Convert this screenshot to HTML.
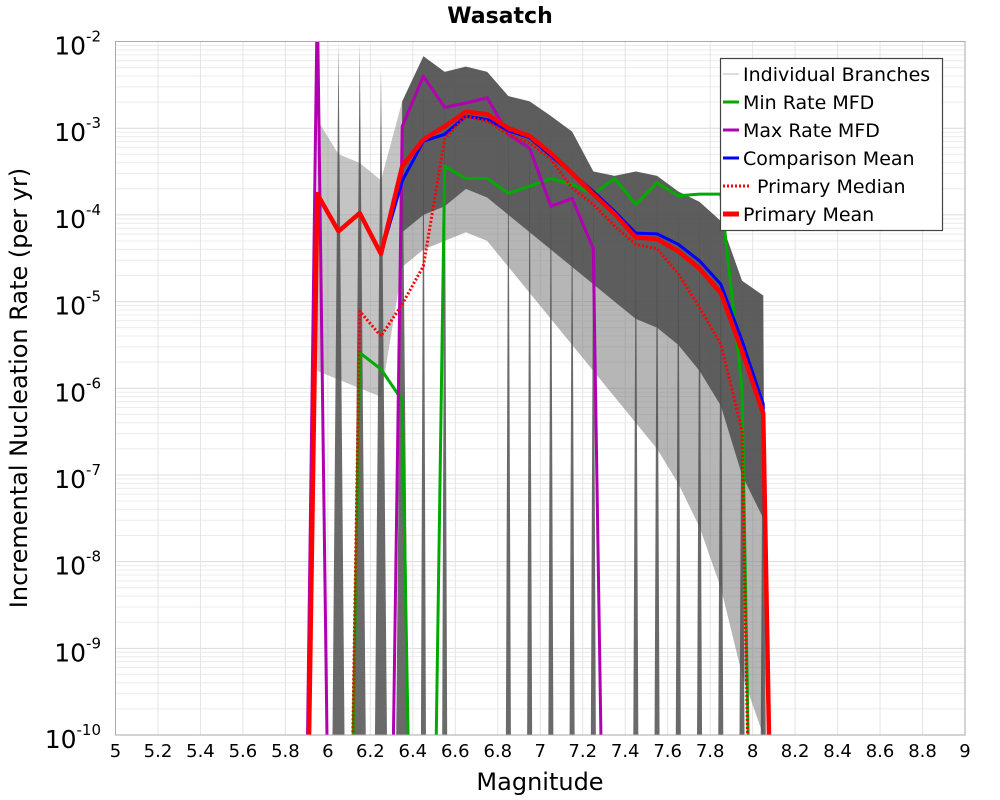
<!DOCTYPE html>
<html><head><meta charset="utf-8"><style>
html,body{margin:0;background:#fff;width:1000px;height:800px;overflow:hidden;}
svg{display:block;font-family:"DejaVu Sans","Liberation Sans",sans-serif;}
</style></head><body>
<svg id="chart" width="1000" height="800" xmlns="http://www.w3.org/2000/svg">
<g id="grid"></g>
<g id="branches"></g>
<g id="series"></g>
<rect x="115.5" y="41.5" width="849.5" height="693.5" fill="none" stroke="#aaa" stroke-width="1"/>
<g id="axes"></g>
<text x="500" y="23" text-anchor="middle" font-size="22" font-weight="bold">Wasatch</text>
<text x="540" y="790" text-anchor="middle" font-size="24">Magnitude</text>
<text transform="translate(27,388) rotate(-90)" text-anchor="middle" font-size="24">Incremental Nucleation Rate (per yr)</text>
<g>
<rect x="720.5" y="58.5" width="222" height="172" fill="#fff" stroke="#444" stroke-width="1.2"/>
<g><line x1="723" y1="74" x2="739" y2="74" stroke="#bbb" stroke-width="1"/><text x="743" y="81" font-size="19">Individual Branches</text></g>
<g><line x1="723" y1="102" x2="739" y2="102" stroke="#00aa00" stroke-width="3"/><text x="743" y="109" font-size="19">Min Rate MFD</text></g>
<g><line x1="723" y1="130" x2="739" y2="130" stroke="#b000b0" stroke-width="3"/><text x="743" y="137" font-size="19">Max Rate MFD</text></g>
<g><line x1="723" y1="158" x2="739" y2="158" stroke="#0000ff" stroke-width="3"/><text x="743" y="165" font-size="19">Comparison Mean</text></g>
<g><line x1="723" y1="186" x2="751" y2="186" stroke="#ff0000" stroke-width="3" stroke-dasharray="2,2"/><text x="757" y="193" font-size="19">Primary Median</text></g>
<g><line x1="723" y1="214" x2="739" y2="214" stroke="#ff0000" stroke-width="5"/><text x="743" y="221" font-size="19">Primary Mean</text></g>
</g>
</svg>
<script>
const mags=[5.85,5.95,6.05,6.15,6.25,6.35,6.45,6.55,6.65,6.75,6.85,6.95,7.05,7.15,7.25,7.35,7.45,7.55,7.65,7.75,7.85,7.95,8.05,8.15];
const Z=-20;
const primaryMean=[Z,-3.76,-4.19,-3.98,-4.45,-3.44,-3.13,-2.98,-2.81,-2.84,-3.0,-3.09,-3.29,-3.52,-3.76,-3.99,-4.26,-4.28,-4.42,-4.62,-4.9,-5.57,-6.29,Z];
const comparisonMean=[Z,-3.76,-4.19,-3.98,-4.45,-3.61,-3.15,-3.07,-2.86,-2.9,-3.03,-3.11,-3.32,-3.52,-3.73,-3.96,-4.21,-4.22,-4.34,-4.53,-4.8,-5.45,-6.18,Z];
const primaryMedian=[Z,Z,Z,-5.11,-5.4,-5.03,-4.59,-3.12,-2.86,-2.92,-3.07,-3.17,-3.36,-3.69,-3.88,-4.13,-4.34,-4.39,-4.68,-5.07,-5.49,-6.49,Z,Z];
const minRate=[Z,Z,Z,-5.59,-5.78,-6.14,Z,-3.44,-3.58,-3.58,-3.75,-3.67,-3.58,-3.65,-3.76,-3.58,-3.88,-3.63,-3.78,-3.76,-3.76,-6.0,Z,Z];
const maxRate=[Z,-1.5,Z,Z,Z,-2.98,-2.4,-2.76,-2.71,-2.65,-3.07,-3.23,-3.9,-3.81,-4.39,Z,Z,Z,Z,Z,Z,Z,Z,Z];
const bandMags=[5.95,6.05,6.15,6.25,6.35,6.45,6.55,6.65,6.75,6.85,6.95,7.05,7.15,7.25,7.35,7.45,7.55,7.65,7.75,7.85,7.95,8.05];
const bandUpper=[-2.9,-3.3,-3.4,-3.6,-2.69,-2.17,-2.35,-2.29,-2.35,-2.63,-2.69,-2.86,-3.04,-3.5,-3.55,-3.5,-3.55,-3.73,-3.85,-4.07,-4.76,-4.93];
const bandCore=[-4.3,-4.5,-4.6,-4.8,-4.2,-4.0,-3.9,-3.7,-3.8,-4.0,-4.2,-4.4,-4.6,-4.8,-5.0,-5.2,-5.3,-5.5,-5.8,-6.2,-7.0,-7.5];
const bandLower=[-5.8,-5.9,-6.0,-6.1,-4.6,-4.4,-4.3,-4.2,-4.3,-4.6,-4.9,-5.2,-5.5,-5.8,-6.1,-6.4,-6.7,-7.1,-7.6,-8.3,-9.3,-10];
const spikeMags=[6.05,6.15,6.25,6.35,6.45,6.55,6.85,6.95,7.05,7.15,7.25,7.45,7.55,7.65,7.75,7.85,7.95,8.05];
const spikeTops=[-2,-2,-2.3,-2.7,-2.3,-2.4,-2.7,-2.8,-2.9,-3.1,-3.5,-3.6,-3.6,-3.8,-3.9,-4.1,-4.8,-4.9];
const xTicks=[5,5.2,5.4,5.6,5.8,6,6.2,6.4,6.6,6.8,7,7.2,7.4,7.6,7.8,8,8.2,8.4,8.6,8.8,9];
const xTickLabels=["5","5.2","5.4","5.6","5.8","6","6.2","6.4","6.6","6.8","7","7.2","7.4","7.6","7.8","8","8.2","8.4","8.6","8.8","9"];
const yExps=[-2,-3,-4,-5,-6,-7,-8,-9,-10];

const X0=115.5,X1=965,Y0=41.5,Y1=735;
const xs=m=>X0+(m-5)/4*(X1-X0);
const ys=l=>Y0+(-2-l)/8*(Y1-Y0);
const NS='http://www.w3.org/2000/svg';
function mk(tag,attrs,parent){const e=document.createElementNS(NS,tag);for(const k in attrs)e.setAttribute(k,attrs[k]);parent.appendChild(e);return e;}
const grid=document.getElementById('grid'),axes=document.getElementById('axes'),br=document.getElementById('branches'),ser=document.getElementById('series');
const defs=mk('defs',{},document.getElementById('chart'));
const cp=mk('clipPath',{id:'clip'},defs);mk('rect',{x:X0,y:Y0,width:X1-X0,height:Y1-Y0},cp);
br.setAttribute('clip-path','url(#clip)');ser.setAttribute('clip-path','url(#clip)');
for(let e=-10;e<-2;e++){for(let k=1;k<10;k++){const y=ys(e+Math.log10(k));
const l=mk('line',{x1:X0,x2:X1,y1:y,y2:y,stroke:k===1?'#dcdcdc':'#ececec','stroke-width':1},grid);

}}
xTicks.forEach((t,i)=>{const x=xs(t);
const l=mk('line',{x1:x,x2:x,y1:Y0,y2:Y1,stroke:'#e4e4e4','stroke-width':1},grid);


const tx=mk('text',{x:x,y:757,'text-anchor':'middle','font-size':18},axes);tx.textContent=xTickLabels[i];

});
yExps.forEach(e=>{const y=ys(e);
const tx=mk('text',{x:101,y:y+13,'text-anchor':'end','font-size':25},axes);


const a=mk('tspan',{},tx);a.textContent='10';
const b=mk('tspan',{dy:-13,'font-size':15},tx);b.textContent=String(e);});
function bandPoly(top,bot,from,to,fill,op,name){
const pts=[];for(let i=from;i<=to;i++)pts.push(xs(bandMags[i])+','+ys(top[i]));
for(let i=to;i>=from;i--)pts.push(xs(bandMags[i])+','+ys(bot[i]));
const p=mk('polygon',{points:pts.join(' '),fill:fill,'fill-opacity':op},br);

}
bandPoly(bandUpper,bandLower,0,4,'#8a8a8a',0.5,'branch-band-left');
bandPoly(bandUpper,bandLower,4,bandMags.length-1,'#7a7a7a',0.55,'branch-band-outer');
bandPoly(bandUpper,bandCore,4,bandMags.length-1,'#4d4d4d',0.85,'branch-band-core');
spikeMags.forEach((m,i)=>{const x=xs(m);const w=i<4?6:2.5;
const p=mk('polygon',{points:(x-w)+','+Y1+' '+x+','+ys(spikeTops[i])+' '+(x+w)+','+Y1,fill:'#505050','fill-opacity':0.85},br);

});
const FLOOR=-10.2;
function line(arr,color,w,dash,name){
// build segments clipped at FLOOR (bottom of axis), preserving crossing points
const pts=[];
for(let i=0;i<mags.length;i++){
  if(i>0){const a=arr[i-1],b=arr[i];
    if((a<FLOOR)!==(b<FLOOR)){const t=(FLOOR-a)/(b-a);pts.push([mags[i-1]+t*(mags[i]-mags[i-1]),FLOOR]);}}
  if(arr[i]>=FLOOR)pts.push([mags[i],arr[i]]);
  else if(pts.length&&pts[pts.length-1][1]!==FLOOR)pts.push([mags[i],FLOOR]);
}
const d=pts.map((p,i)=>(i?'L':'M')+xs(p[0]).toFixed(1)+','+ys(p[1]).toFixed(1)).join(' ');
const p=mk('path',{d:d,fill:'none',stroke:color,'stroke-width':w,'stroke-linejoin':'round'},ser);
if(dash)p.setAttribute('stroke-dasharray',dash);

}
line(minRate,'#00aa00',3,null,'min-rate-line');
line(maxRate,'#b000b0',3,null,'max-rate-line');
line(comparisonMean,'#0000ff',3,null,'comparison-mean-line');
line(primaryMedian,'#ff0000',3,'2,2','primary-median-line');
line(primaryMean,'#ff0000',4.5,null,'primary-mean-line');
</script>
</body></html>
